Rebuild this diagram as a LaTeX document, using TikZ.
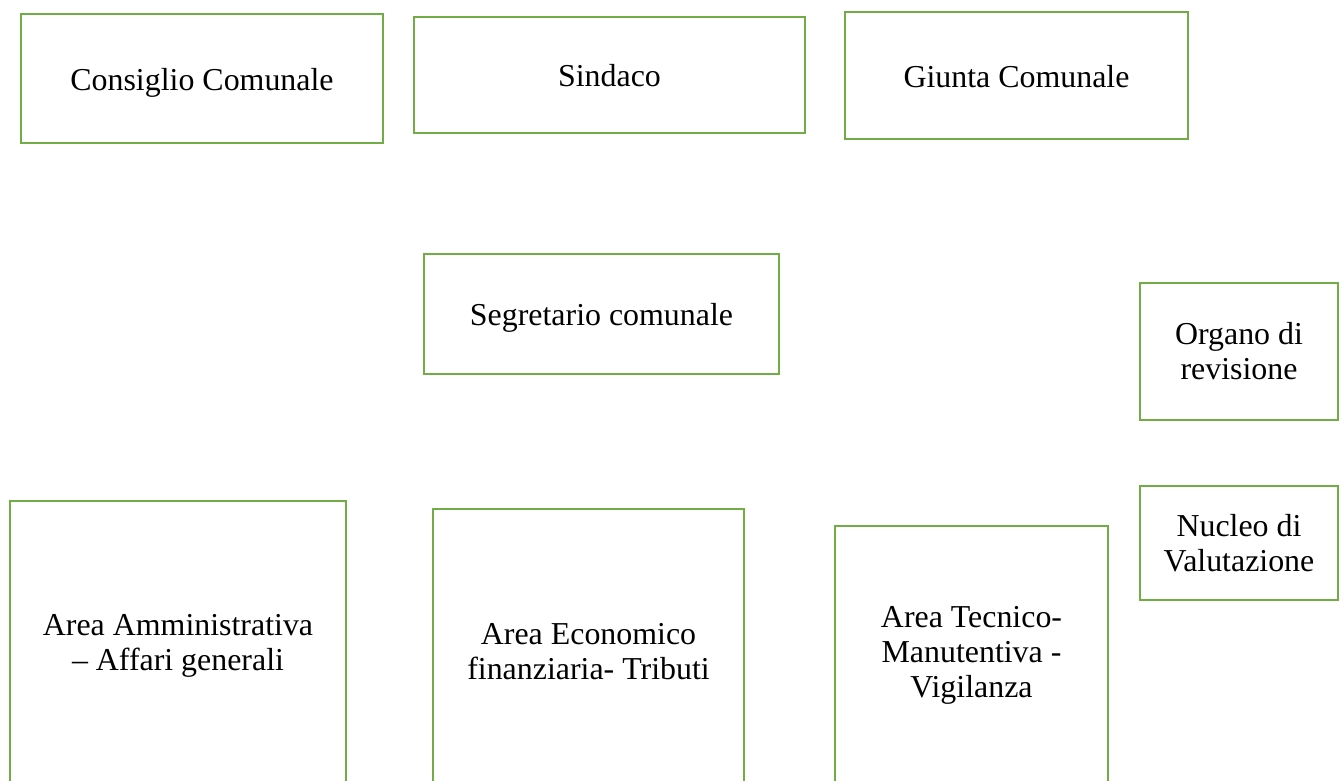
\documentclass[tikz,border=0pt]{standalone}
\usepackage{fontspec}
\setmainfont{Liberation Serif}
\usepackage{tikz}
\definecolor{boxgreen}{RGB}{112,173,71}

\begin{document}
\begin{tikzpicture}[x = 1pt, y = 1pt,
  ufficio/.style = {draw = boxgreen, line width = 2.8pt, rectangle, inner sep = 0pt,
                    align = center, font = \fontsize{31.9}{35}\selectfont},
  riga/.style    = {text height = 30pt, text depth = 7pt}]

  \useasboundingbox (0,0) rectangle (1341,-780);
  \clip (0,0) rectangle (1341,-780);

  % Organi di governo
  \begin{scope}[shift={(0,0)}]
    \node[ufficio, riga, minimum width = 362, minimum height = 129] (consiglio) at ( 202, -78.5) {Consiglio Comunale};
    \node[ufficio, riga, minimum width = 391, minimum height = 116] (sindaco)   at ( 609.5, -75) {Sindaco};
    \node[ufficio, riga, minimum width = 343, minimum height = 127] (giunta)    at (1016.5, -75.5) {Giunta Comunale};
  \end{scope} % Organi di governo

  % Segretario
  \node[ufficio, riga, minimum width = 355, minimum height = 120] (segretario) at (601.5, -314) {Segretario comunale};

  % Organi di controllo
  \begin{scope}[shift={(1239,0)}]
    \node[ufficio, minimum width = 198, minimum height = 137] (revisione) at (0, -351.5) {Organo di\\revisione};
    \node[ufficio, minimum width = 198, minimum height = 114] (nucleo)    at (0, -543)   {Nucleo di\\Valutazione};
  \end{scope} % Organi di controllo

  % Aree
  \begin{scope}[shift={(0,0)}]
    \node[ufficio, minimum width = 336, minimum height = 290] (amministrativa) at ( 178,   -646) {Area Amministrativa\\– Affari generali};
    \node[ufficio, minimum width = 311, minimum height = 286] (economica)      at ( 588.5, -652) {Area Economico\\finanziaria- Tributi};
    \node[ufficio, minimum width = 273, minimum height = 258] (tecnica)        at ( 971.5, -655) {Area Tecnico-\\Manutentiva -\\Vigilanza};
  \end{scope} % Aree

\end{tikzpicture}
\end{document}
